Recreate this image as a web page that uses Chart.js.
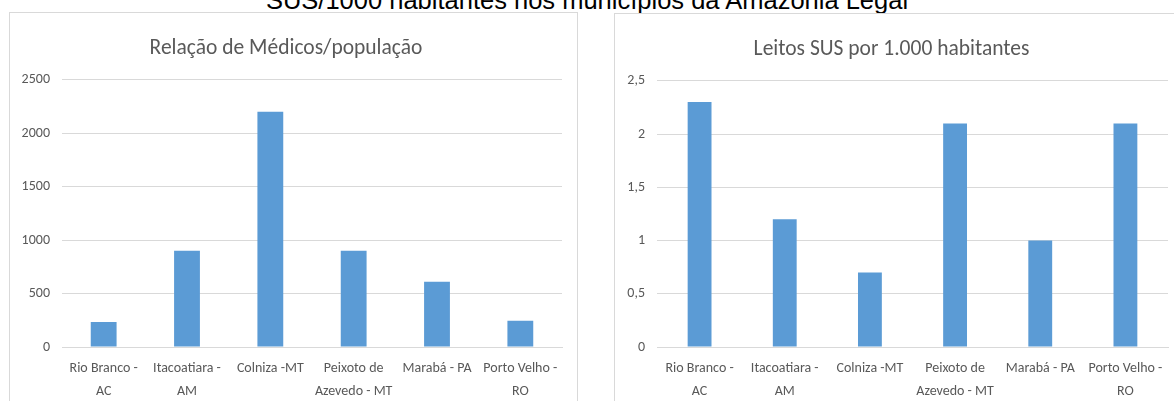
<!DOCTYPE html>
<html>
<head>
<meta charset="utf-8">
<script src="https://cdn.jsdelivr.net/npm/chart.js@4.4.0/dist/chart.umd.min.js"></script>
<style>
  html, body { margin: 0; padding: 0; background: #fff; }
  body { width: 1174px; height: 401px; overflow: hidden; position: relative; }
  #caption {
    position: absolute; left: 0; width: 1174px; top: -12px;
    text-align: center; font-family: "Liberation Sans", Arial, sans-serif;
    font-size: 25.5px; line-height: 25.5px; color: #000; white-space: nowrap;
  }
  .panel { position: absolute; border: 1px solid #d9d9d9; background: #fff; }
  #p1 { left: 9px; top: 12px; width: 567px; height: 400px; }
  #p2 { left: 614px; top: 13px; width: 580px; height: 400px; }
  canvas { display: block; }
</style>
</head>
<body>
<div id="caption">SUS/1000 habitantes nos municípios da Amazônia Legal</div>
<div class="panel" id="p1"><canvas id="medicos" width="567" height="388"></canvas></div>
<div class="panel" id="p2"><canvas id="leitos" width="559" height="387"></canvas></div>
<script>
const municipios = [
    ['Rio Branco -', 'AC'],
    ['Itacoatiara -', 'AM'],
    'Colniza -MT',
    ['Peixoto de', 'Azevedo - MT'],
    'Marabá - PA',
    ['Porto Velho -', 'RO']
];
const medicosPorPopulacao = [235, 900, 2200, 900, 610, 245];
const leitosSus = [2.3, 1.2, 0.7, 2.1, 1.0, 2.1];

const gray = '#595959';
const lineGray = '#d9d9d9';
const blue = '#5b9bd5';
const font = 'Carlito, Lato, sans-serif';

function makeChart(id, title, values, yMax, yStep, yWidth, rightPad, barPct, decimals) {
    const ctx = document.getElementById(id).getContext('2d');
    return new Chart(ctx, {
        type: 'bar',
        data: {
            labels: municipios,
            datasets: [{
                data: values,
                backgroundColor: blue,
                borderWidth: 0,
                categoryPercentage: 1,
                barPercentage: barPct
            }]
        },
        options: {
            responsive: false,
            animation: false,
            layout: { padding: { left: 0, right: rightPad, top: 0, bottom: 0 } },
            plugins: {
                legend: { display: false },
                tooltip: { enabled: false },
                title: {
                    display: true,
                    text: title,
                    color: gray,
                    font: { family: font, size: 21.5, weight: 'normal' },
                    padding: { top: 23, bottom: 18 }
                }
            },
            scales: {
                x: {
                    grid: { display: false },
                    border: { color: lineGray },
                    ticks: {
                        color: gray,
                        font: { family: font, size: 14, lineHeight: 1.64 },
                        padding: 2,
                        maxRotation: 0,
                        autoSkip: false
                    },
                    afterFit: scale => { scale.height = 54; }
                },
                y: {
                    min: 0,
                    max: yMax,
                    border: { display: false },
                    grid: { color: lineGray, drawTicks: false },
                    ticks: {
                        stepSize: yStep,
                        color: gray,
                        padding: 12,
                        font: { family: font, size: 14 },
                        callback: v => decimals ? String(v).replace('.', ',') : v
                    },
                    afterFit: scale => { scale.width = yWidth; }
                }
            }
        }
    });
}

makeChart('medicos', 'Relação de Médicos/população', medicosPorPopulacao, 2500, 500, 52, 15, 0.31, false);
makeChart('leitos', 'Leitos SUS por 1.000 habitantes', leitosSus, 2.5, 0.5, 42, 6, 0.28, true);
</script>
</body>
</html>
